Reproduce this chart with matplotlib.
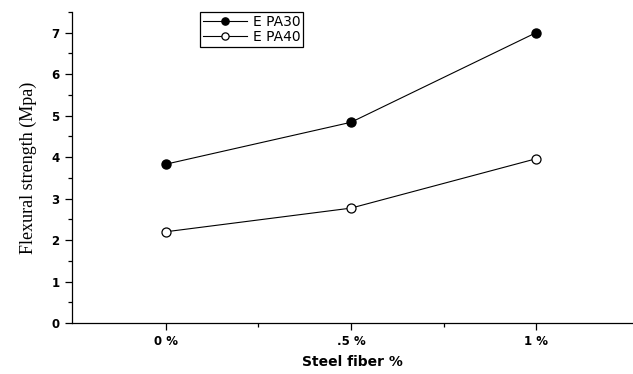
import matplotlib.pyplot as plt
from matplotlib.ticker import MultipleLocator, FixedLocator

# steel fiber content (%) and flexural strength (MPa)
fiber = [0.0, 0.5, 1.0]
fiber_labels = ['0 %', '.5 %', '1 %']
epa30 = [3.83, 4.84, 7.0]
epa40 = [2.2, 2.77, 3.96]

fig = plt.figure(figsize=(6.33, 3.74), dpi=100)
ax = fig.add_axes([0.1137, 0.1364, 0.8863, 0.8316])

ax.plot(fiber, epa30, color='black', lw=0.8, marker='o', ms=6.5,
        mfc='black', mec='black', label='E PA30')
ax.plot(fiber, epa40, color='black', lw=0.8, marker='o', ms=6.5,
        mfc='white', mec='black', mew=0.9, label='E PA40')

ax.set_xlim(-0.254, 1.262)
ax.set_ylim(0, 7.5)
ax.set_xticks(fiber)
ax.set_xticklabels(fiber_labels)
ax.xaxis.set_minor_locator(FixedLocator([0.25, 0.75]))
ax.yaxis.set_major_locator(MultipleLocator(1))
ax.yaxis.set_minor_locator(MultipleLocator(0.5))

for s in ['top', 'right']:
    ax.spines[s].set_visible(False)
for s in ['left', 'bottom']:
    ax.spines[s].set_linewidth(0.9)

ax.tick_params(which='major', direction='out', length=5, width=0.9, pad=4)
ax.tick_params(which='minor', direction='out', length=3, width=0.9)
for lab in ax.get_xticklabels() + ax.get_yticklabels():
    lab.set_fontfamily('DejaVu Sans')
    lab.set_fontweight('bold')
    lab.set_fontsize(8.5)

ax.set_xlabel('Steel fiber %', fontfamily='DejaVu Sans', fontweight='bold',
              fontsize=10, labelpad=5)
ax.set_ylabel('Flexural strength (Mpa)', fontfamily='Liberation Serif',
              fontsize=13, labelpad=10)

leg = ax.legend(loc='upper left', bbox_to_anchor=(0.228, 1.0), fancybox=False,
                edgecolor='black', framealpha=1, borderpad=0.2, handlelength=3.2,
                handletextpad=0.4, labelspacing=0.1, borderaxespad=0,
                markerscale=0.8, prop={'family': 'DejaVu Sans', 'size': 10})
leg.get_frame().set_linewidth(0.9)

fig.savefig('out.png', dpi=100)
